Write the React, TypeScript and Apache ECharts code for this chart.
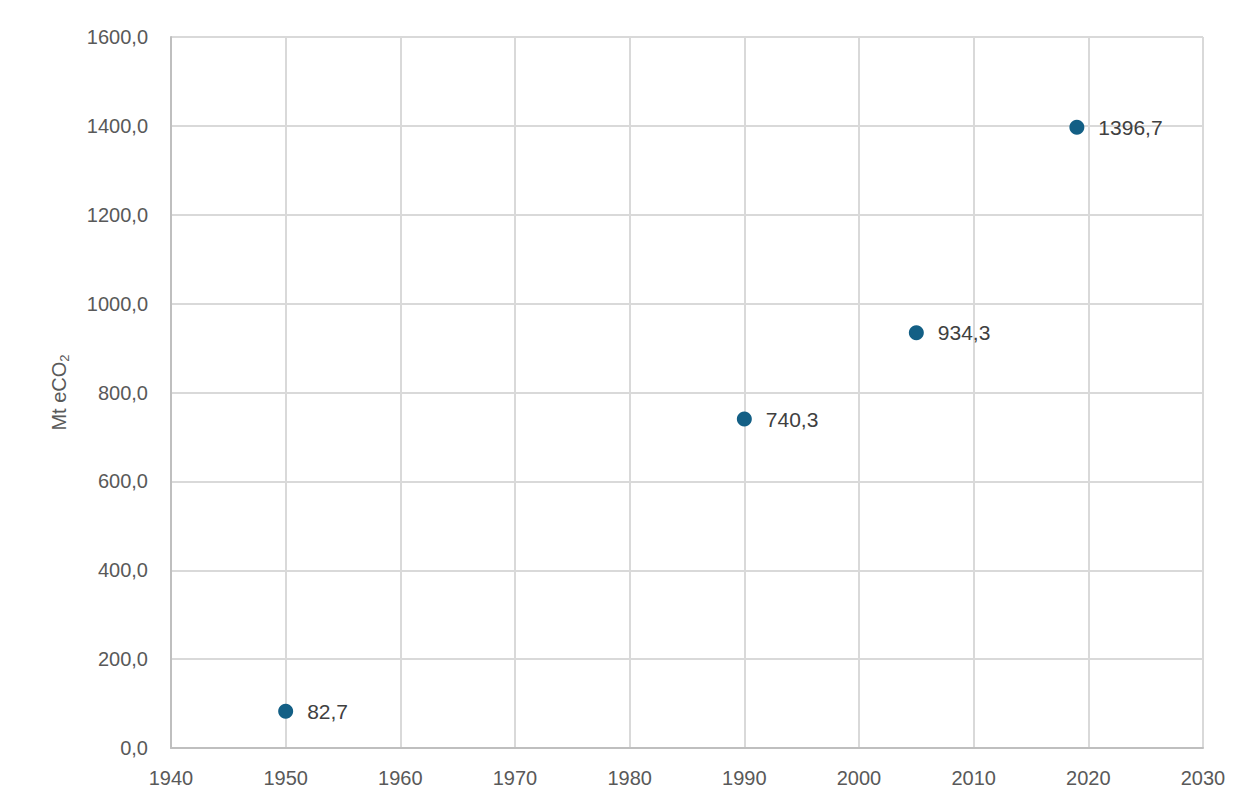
import React, { useEffect, useRef } from "react";
import * as echarts from "echarts";

const years = [1950, 1990, 2005, 2019];
const emissions = [82.7, 740.3, 934.3, 1396.7];
const yAxisNameMain = "Mt eCO";
const yAxisNameSub = "2";

const fmt = (v: number) => v.toFixed(1).replace(".", ",");

export default function App() {
  const ref = useRef<HTMLDivElement>(null);
  useEffect(() => {
    if (!ref.current) return;
    const chart = echarts.init(ref.current, undefined, { renderer: "svg" });
    const font = "'Liberation Sans', Arial, sans-serif";
    chart.setOption({
      animation: false,
      backgroundColor: "#ffffff",
      textStyle: { fontFamily: font },
      grid: { left: 163, top: 29, width: 1032, height: 711, containLabel: false },
      xAxis: {
        type: "value",
        min: 1940,
        max: 2030,
        interval: 10,
        axisLine: { show: true, lineStyle: { color: "#bfbfbf", width: 2 } },
        axisTick: { show: false },
        splitLine: { show: true, lineStyle: { color: "#d9d9d9", width: 2 } },
        axisLabel: {
          color: "#595959",
          fontSize: 20,
          margin: 20,
          fontFamily: font,
          formatter: (v: number) => String(v),
        },
      },
      yAxis: {
        type: "value",
        min: 0,
        max: 1600,
        interval: 200,
        name: `{a|${yAxisNameMain}}{b|${yAxisNameSub}}`,
        nameLocation: "middle",
        nameGap: 100,
        nameRotate: 90,
        nameTextStyle: {
          color: "#595959",
          fontSize: 20,
          fontFamily: font,
          rich: {
            a: { color: "#595959", fontSize: 20, fontFamily: font, lineHeight: 24 },
            b: {
              color: "#595959",
              fontSize: 13,
              fontFamily: font,
              lineHeight: 24,
              verticalAlign: "bottom",
              padding: [8, 0, 0, 0],
            },
          },
        },
        axisLine: { show: true, lineStyle: { color: "#bfbfbf", width: 2 } },
        axisTick: { show: false },
        splitLine: { show: true, lineStyle: { color: "#d9d9d9", width: 2 } },
        axisLabel: {
          color: "#595959",
          fontSize: 20,
          margin: 23,
          fontFamily: font,
          formatter: (v: number) => fmt(v),
        },
      },
      series: [
        {
          type: "scatter",
          data: years.map((y, i) => [y, emissions[i]]),
          symbol: "circle",
          symbolSize: 15,
          itemStyle: { color: "#135f85", opacity: 1 },
          label: {
            show: true,
            position: "right",
            distance: 14,
            color: "#404040",
            fontSize: 21,
            fontFamily: font,
            formatter: (p: any) => fmt(p.value[1]),
          },
        },
      ],
    });
    return () => chart.dispose();
  }, []);
  return (
    <div
      style={{
        width: 1248,
        height: 797,
        boxSizing: "border-box",
        borderTop: "2px solid #d9d9d9",
        borderLeft: "2px solid #d9d9d9",
        position: "relative",
        background: "#fff",
      }}
    >
      <div ref={ref} style={{ position: "absolute", left: -2, top: -2, width: 1248, height: 797 }} />
    </div>
  );
}
